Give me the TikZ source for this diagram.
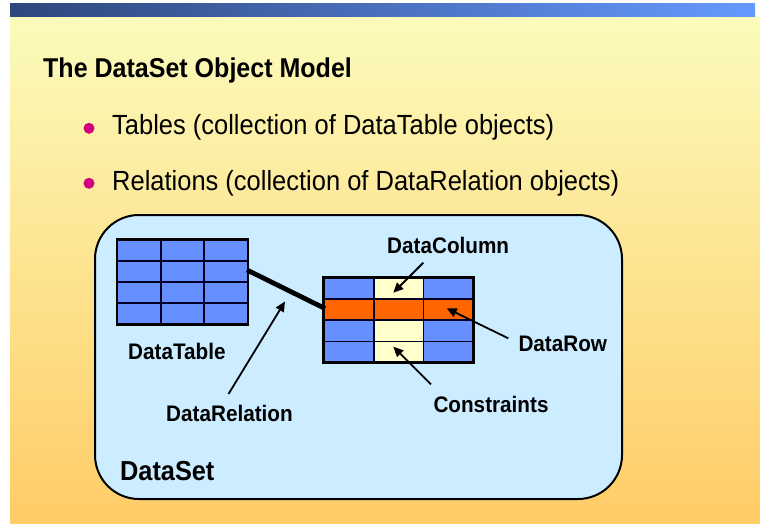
\documentclass[tikz,border=0pt]{standalone}
\usepackage{fontspec}
\setmainfont{Liberation Sans}[FakeStretch=0.92]
\usetikzlibrary{arrows.meta}
\definecolor{barDark}{HTML}{2E477C}
\definecolor{barLight}{HTML}{6699FF}
\definecolor{bgTop}{HTML}{FBFBBB}
\definecolor{bgBottom}{HTML}{FFCC66}
\definecolor{setFill}{HTML}{CCECFF}
\definecolor{cellBlue}{HTML}{6690FF}
\definecolor{cellPale}{HTML}{FFFFCC}
\definecolor{cellOrange}{HTML}{FF6600}
\definecolor{bulletPink}{HTML}{D0007F}
\tikzset{
  titletext/.style={anchor=base west, inner sep=0pt, font=\bfseries\fontsize{27.2}{31}\selectfont},
  bullettext/.style={anchor=base west, inner sep=0pt, font=\fontsize{27.7}{31}\selectfont},
  labeltext/.style={anchor=base west, inner sep=0pt, font=\bfseries\fontsize{22.5}{26}\selectfont},
  bulletdot/.style={circle, fill=bulletPink, inner sep=0pt, minimum size=11pt},
  gridline/.style={line width=1.6pt, draw=black!85!blue},
  outerline/.style={line width=2.6pt, draw=black},
  pointer/.style={line width=1.8pt, -{Triangle[length=10pt,width=9pt]}},
}
\begin{document}
\begin{tikzpicture}[x=1pt,y=-1pt]
\useasboundingbox (0,0) rectangle (760,524);
\fill[white] (0,0) rectangle (760,524);
% background
\shade[top color=bgTop, bottom color=bgBottom] (10,17) rectangle (760,524);
\shade[left color=barDark, right color=barLight] (10,4) rectangle (755,17);
% title and bullets
\node[titletext] (title) at (43,77.7) {The DataSet Object Model};
\node[bulletdot] (b1) at (89,128.3) {};
\node[bullettext] (t1) at (112,135) {Tables (collection of DataTable objects)};
\node[bulletdot] (b2) at (89,183.3) {};
\node[bullettext] (t2) at (112,190) {Relations (collection of DataRelation objects)};
% dataset box
\node[draw=black, line width=2pt, fill=setFill, rounded corners=44pt,
      minimum width=527pt, minimum height=284pt, inner sep=0pt] (dataset) at (358.5,357) {};
% left table (DataTable)
\fill[cellBlue] (117,239.5) rectangle (248,324.5);
\foreach \yy in {260.7,281.7,302.7} \draw[gridline] (117,\yy) -- (248,\yy);
\foreach \xx in {161,204} \draw[gridline] (\xx,239.5) -- (\xx,324.5);
\draw[outerline] (117,239.5) rectangle (248,324.5);
% right table
\fill[cellBlue] (323.5,277.5) rectangle (473.5,362.5);
\fill[cellPale] (374,277.5) rectangle (423.5,362.5);
\fill[cellOrange] (323.5,299) rectangle (473.5,320);
\foreach \yy in {299,320,341.5} \draw[gridline] (323.5,\yy) -- (473.5,\yy);
\foreach \xx in {374,423.5} \draw[gridline] (\xx,277.5) -- (\xx,362.5);
\draw[outerline] (323.5,277.5) rectangle (473.5,362.5);
% relation line
\coordinate (relA) at (247,270);
\coordinate (relB) at (325,308.5);
\draw[line width=4.8pt] (relA) -- (relB);
% labels
\node[labeltext] (lDataTable) at (128,359.3) {DataTable};
\node[labeltext] (lDataRelation) at (166,421.7) {DataRelation};
\node[labeltext] (lDataColumn) at (387,253.3) {DataColumn};
\node[labeltext] (lDataRow) at (518.3,351.7) {DataRow};
\node[labeltext] (lConstraints) at (433.3,412.7) {Constraints};
\node[anchor=base west, inner sep=0pt, font=\bfseries\fontsize{27.5}{32}\selectfont] (lDataSet) at (120,480) {DataSet};
% pointers
\coordinate (relS) at (228.5,394);
\coordinate (relT) at (285,301.5);
\draw[pointer] (relS) -- (relT);
\coordinate (colS) at (423.3,262.7);
\coordinate (colT) at (393.3,292.7);
\draw[pointer] (colS) -- (colT);
\coordinate (rowS) at (508.3,338.3);
\coordinate (rowT) at (446.7,308.3);
\draw[pointer] (rowS) -- (rowT);
\coordinate (conS) at (431,384.3);
\coordinate (conT) at (393.3,346.7);
\draw[pointer] (conS) -- (conT);
\end{tikzpicture}
\end{document}
